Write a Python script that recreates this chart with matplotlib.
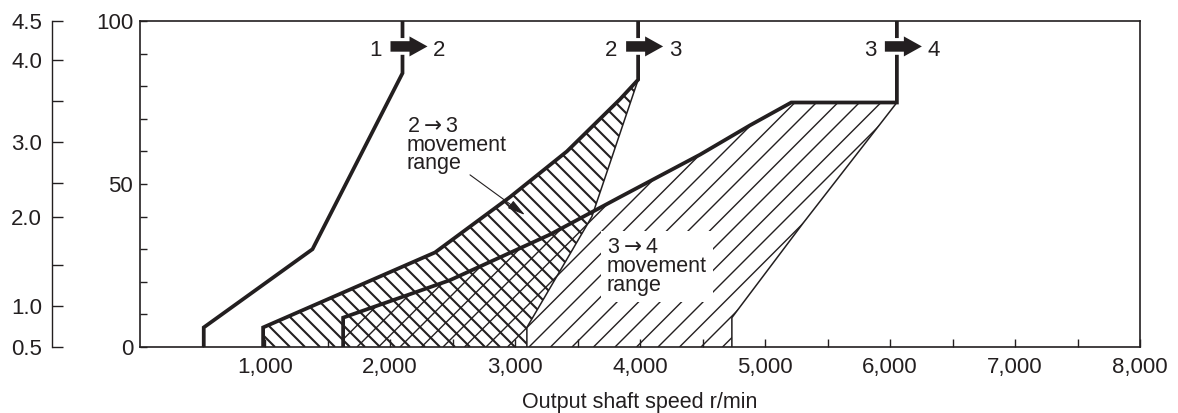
import numpy as np
import matplotlib
matplotlib.use('Agg')
from matplotlib import pyplot as plt
from matplotlib.patches import Polygon, FancyArrow
from matplotlib.collections import LineCollection

# shift lines: output shaft speed (r/min) vs throttle opening (%)
speed_12 = [510, 510, 1380, 2100, 2100]
open_12 = [0, 6, 30, 84, 100]

speed_23_hi = [985, 985, 2360, 2960, 3415, 3840, 3985, 3985]
open_23_hi = [0, 6, 29, 46, 60, 76, 82, 100]
speed_23_lo = [3985, 3615, 3095, 3095]
open_23_lo = [82, 40, 6, 0]

speed_34_hi = [1625, 1625, 2480, 3280, 3840, 4480, 4880, 5210, 6055, 6055]
open_34_hi = [0, 9, 20.5, 34.5, 46, 59, 68, 75, 75, 100]
speed_34_lo = [6055, 5305, 4735, 4735]
open_34_lo = [75, 38, 9, 0]

shift_from = ['1', '2', '3']
shift_to = ['2', '3', '4']

# second scale on the left, with where each value sits on the 0-100 scale
torque_vals = [0.5, 1.0, 1.5, 2.0, 2.5, 3.0, 3.5, 4.0, 4.5]
torque_at = [0, 12.7, 25.2, 40.0, 50.2, 63.0, 75.5, 88.0, 100]
torque_labels = ['0.5', '1.0', '', '2.0', '', '3.0', '', '4.0', '4.5']

x_ticks = [1000, 2000, 3000, 4000, 5000, 6000, 7000, 8000]
y_ticks = [0, 50, 100]

ink = '#231f20'
plt.rcParams['font.family'] = ['Liberation Sans', 'DejaVu Sans']
plt.rcParams['mathtext.fontset'] = 'dejavusans'
plt.rcParams['font.size'] = 15.5
plt.rcParams['text.color'] = ink

fig = plt.figure(figsize=(11.78, 4.13), dpi=100)
ax = fig.add_axes([140 / 1178, 66 / 413, 1000 / 1178, 326 / 413])

# pixels per data unit (needed for hatch angle / arrow sizes)
px_x = 1000 / 8000
px_y = 326 / 100


def hatch(xs, ys, slope, gap, lw):
    poly = Polygon(np.column_stack([xs, ys]), closed=True, fc='none', ec='none')
    ax.add_patch(poly)
    segs = []
    for b in np.arange(-600, 1500, gap):
        segs.append([(b / px_x, 0), ((b + 326 / slope) / px_x, 100)])
    lc = LineCollection(segs, colors=ink, linewidths=lw, zorder=2)
    lc.set_clip_path(poly)
    ax.add_collection(lc, autolim=False)


# 2->3 range: "\" hatch,  3->4 range: "/" hatch
hatch(speed_23_hi[:-1] + speed_23_lo[1:], open_23_hi[:-1] + open_23_lo[1:], -1, 15, 1.5)
hatch(speed_34_hi[:-1] + speed_34_lo[1:], open_34_hi[:-1] + open_34_lo[1:], 1, 21.5, 1.0)

thick = dict(color=ink, lw=2.7, solid_joinstyle='miter', zorder=4)
thin = dict(color=ink, lw=1.1, solid_joinstyle='miter', zorder=4)
ax.plot(speed_12, open_12, **thick)
ax.plot(speed_23_hi, open_23_hi, **thick)
ax.plot(speed_23_lo, open_23_lo, **thin)
ax.plot(speed_34_hi, open_34_hi, **thick)
ax.plot(speed_34_lo, open_34_lo, **thin)

# block arrows on the shift lines
shift_x = [speed_12[-1], speed_23_hi[-1], speed_34_hi[-1]]
for xs, a, b in zip(shift_x, shift_from, shift_to):
    for ec, lw in (('white', 4.5), ('none', 0)):
        ar = FancyArrow(xs - 12 / px_x, 92.2, 37 / px_x, 0, width=10.5 / px_y,
                        head_width=20 / px_y, head_length=18 / px_x,
                        length_includes_head=True, fc=ink, ec=ec, lw=lw, zorder=5)
        ax.add_patch(ar)
    ax.text(xs - 27 / px_x, 89.3, a, ha='center', va='baseline', fontsize=16, zorder=6)
    ax.text(xs + 37 / px_x, 89.3, b, ha='center', va='baseline', fontsize=16, zorder=6)

ax.text(2136, 70.8, '2$\\rightarrow$3\nmovement\nrange', ha='left', va='top',
        linespacing=0.85, zorder=6)
ax.annotate('', xy=(3080, 40.5), xytext=(2640, 52.8),
            arrowprops=dict(arrowstyle='-|>,head_length=0.7,head_width=0.18',
                            color=ink, lw=0.8, shrinkA=0, shrinkB=0), zorder=6)
ax.text(3736, 33.6, '3$\\rightarrow$4\nmovement\nrange', ha='left', va='top',
        linespacing=0.85, zorder=3,
        bbox=dict(boxstyle='square,pad=0.3', fc='white', ec='none'))

ax.set_xlim(0, 8000)
ax.set_ylim(0, 100)
ax.set_xticks(x_ticks, labels=[f'{v:,}' for v in x_ticks])
ax.set_xticks(np.arange(500, 8000, 1000), minor=True)
ax.set_yticks(y_ticks)
ax.set_yticks(np.arange(10, 100, 10), minor=True)
ax.tick_params(which='both', direction='in', color=ink, width=1.0, labelcolor=ink)
ax.tick_params(axis='x', which='both', length=6, pad=7, labelsize=16)
ax.tick_params(axis='y', which='both', length=5, pad=5, labelsize=16)
for s in ax.spines.values():
    s.set_linewidth(1.2)
    s.set_color(ink)
ax.set_xlabel('Output shaft speed r/min', fontsize=15.5, labelpad=10, color=ink)


def to_torque(y):
    return np.interp(y, torque_at, torque_vals)


def from_torque(v):
    return np.interp(v, torque_vals, torque_at)


sec = ax.secondary_yaxis(-0.0883, functions=(to_torque, from_torque))
sec.set_yticks(torque_vals, labels=torque_labels)
sec.tick_params(direction='in', length=8, width=1.0, pad=7, labelsize=16,
                color=ink, labelcolor=ink)
sec.spines['left'].set_linewidth(1.0)
sec.spines['left'].set_color(ink)

plt.savefig('out.png', dpi=100)
plt.close('all')
